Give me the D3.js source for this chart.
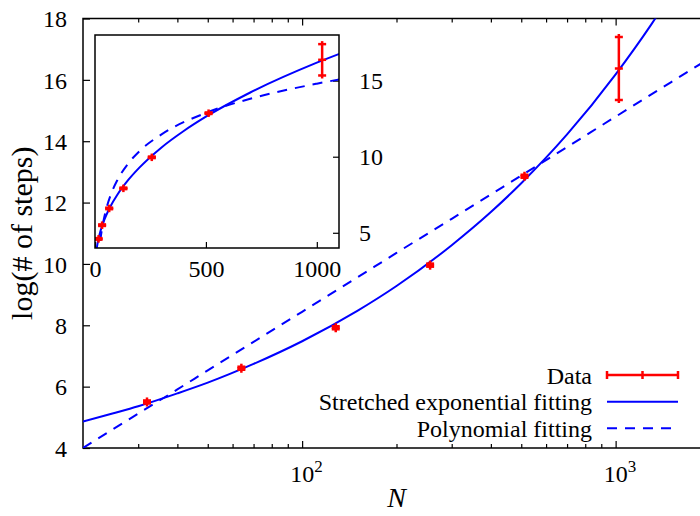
<!DOCTYPE html>
<html>
<head>
<meta charset="utf-8">
<script src="https://cdn.jsdelivr.net/npm/d3@7"></script>
<style>
  body { margin: 0; background: #fff; }
  text { font-family: "Liberation Serif", "Times New Roman", serif; fill: #000; }
</style>
</head>
<body>
<div id="chart"></div>
<script>
/* data */
const sizes = [16, 32, 64, 128, 256, 512, 1024];
const logSteps = [4.6, 5.5, 6.6, 7.92, 9.96, 12.86, 16.37];
const stepErr = [0.05, 0.05, 0.05, 0.05, 0.05, 0.05, 1.03];

// stretched exponential fit
const stretchN = [1, 4, 8, 12, 16, 20, 25, 30, 40, 50, 70, 100, 150, 200, 300, 400, 500, 700, 1000, 1300, 1600, 2000];
const stretchVals = [2.92, 3.53, 3.99, 4.34, 4.62, 4.86, 5.13, 5.36, 5.78, 6.13, 6.74, 7.48, 8.47, 9.28, 10.61, 11.69, 12.63, 14.22, 16.18, 17.81, 19.24, 20.92];

// polynomial fit
const polyN = [10, 16, 20, 25, 30, 40, 50, 70, 100, 150, 200, 300, 500, 700, 1000, 1500, 2000];
const polyVals = [2.09, 3.38, 4.0, 4.62, 5.12, 5.91, 6.53, 7.46, 8.44, 9.56, 10.36, 11.47, 12.88, 13.81, 14.8, 15.92, 16.71];

const mainYTicks = [4, 6, 8, 10, 12, 14, 16, 18];
const mainXTicks = [100, 1000];
const mainXMinor = [30, 40, 50, 60, 70, 80, 90, 200, 300, 400, 500, 600, 700, 800, 900];
const insetXTicks = [0, 500, 1000];
const insetYTicks = [5, 10, 15];
const legendLabels = ["Data", "Stretched exponential fitting", "Polynomial fitting"];

/* Dimensions */
let width = 700;
let height = 516;
let m = {left: 83, right: 710, top: 18.5, bottom: 448};
let ins = {left: 95, right: 339, top: 35, bottom: 248};

let red = "#ff0000";
let blue = "#0000ff";

let svg = d3.select("#chart")
            .append("svg")
              .attr("width", width)
              .attr("height", height);

let defs = svg.append("defs");
defs.append("clipPath").attr("id", "clip-main")
    .append("rect")
      .attr("x", m.left).attr("y", m.top)
      .attr("width", m.right - m.left).attr("height", m.bottom - m.top);
defs.append("clipPath").attr("id", "clip-inset")
    .append("rect")
      .attr("x", ins.left).attr("y", ins.top)
      .attr("width", ins.right - ins.left).attr("height", ins.bottom - ins.top);

/* Main panel */
let xScale = d3.scaleLog().domain([20, 2000]).range([m.left, m.right]);
let yScale = d3.scaleLinear().domain([4, 18]).range([m.bottom, m.top]);

let yAxis = svg.append("g")
   .attr("transform", `translate(${m.left},0)`)
   .call(d3.axisLeft(yScale).tickValues(mainYTicks).tickSize(-7).tickPadding(16));

svg.append("g")
   .attr("transform", `translate(0,${m.bottom})`)
   .call(d3.axisBottom(xScale).tickValues(mainXTicks).tickSize(-7).tickFormat(""));

svg.append("g")
   .attr("transform", `translate(0,${m.bottom})`)
   .call(d3.axisBottom(xScale).tickValues(mainXMinor).tickSize(-4).tickFormat(""));

svg.append("g")
   .attr("transform", `translate(0,${m.top})`)
   .call(d3.axisTop(xScale).tickValues(mainXTicks).tickSize(-7).tickFormat(""));

svg.append("g")
   .attr("transform", `translate(0,${m.top})`)
   .call(d3.axisTop(xScale).tickValues(mainXMinor).tickSize(-4).tickFormat(""));

// 10^n labels
let powLabels = svg.append("g").selectAll("text")
   .data(mainXTicks)
   .enter()
   .append("text")
     .attr("x", d => xScale(d) - 12)
     .attr("y", m.bottom + 34)
     .style("font-size", "24px");
powLabels.append("tspan").text("10");
powLabels.append("tspan")
   .attr("dy", -10)
   .style("font-size", "17px")
   .text(d => Math.round(Math.log10(d)));

svg.selectAll(".tick line").attr("stroke", "#000").attr("stroke-width", 1.2);
svg.selectAll(".domain").remove();
yAxis.selectAll("text").style("font-size", "24px").attr("dy", "0.34em");

svg.append("rect")
   .attr("x", m.left).attr("y", m.top)
   .attr("width", m.right - m.left).attr("height", m.bottom - m.top)
   .attr("fill", "none").attr("stroke", "#000").attr("stroke-width", 1.5);

svg.append("text")
   .attr("transform", `translate(32,${(m.top + m.bottom) / 2}) rotate(-90)`)
   .attr("text-anchor", "middle")
   .style("font-size", "30px")
   .text("log(# of steps)");

svg.append("text")
   .attr("x", (m.left + 700) / 2 + 5)
   .attr("y", 507)
   .attr("text-anchor", "middle")
   .style("font-size", "28px")
   .style("font-style", "italic")
   .text("N");

function drawPanel(g, xs, ys, clipId, nMin) {
  let plot = g.append("g").attr("clip-path", `url(#${clipId})`);

  let pts = (ns, vs) => ns.map((n, i) => [n, vs[i]]);

  let line = d3.line()
               .x(d => xs(d[0]))
               .y(d => ys(d[1]))
               .curve(d3.curveMonotoneX);

  plot.append("path")
      .datum(pts(stretchN, stretchVals).filter(d => d[0] >= nMin))
      .attr("d", line)
      .attr("fill", "none").attr("stroke", blue).attr("stroke-width", 2);

  plot.append("path")
      .datum(pts(polyN, polyVals).filter(d => d[0] >= nMin))
      .attr("d", line)
      .attr("fill", "none").attr("stroke", blue).attr("stroke-width", 2)
      .attr("stroke-dasharray", "10,8");

  let pointData = sizes.map((n, i) => ({n: n, v: logSteps[i], e: stepErr[i]}))
                       .filter(d => d.n >= nMin);

  let pt = plot.append("g").selectAll("g")
     .data(pointData)
     .enter()
     .append("g")
       .attr("stroke", red)
       .attr("stroke-width", 2.5);

  pt.append("line")
      .attr("x1", d => xs(d.n)).attr("x2", d => xs(d.n))
      .attr("y1", d => ys(d.v - d.e) + 3).attr("y2", d => ys(d.v + d.e) - 3);
  pt.append("line")
      .attr("x1", d => xs(d.n) - 4).attr("x2", d => xs(d.n) + 4)
      .attr("y1", d => ys(d.v - d.e)).attr("y2", d => ys(d.v - d.e));
  pt.append("line")
      .attr("x1", d => xs(d.n) - 4).attr("x2", d => xs(d.n) + 4)
      .attr("y1", d => ys(d.v + d.e)).attr("y2", d => ys(d.v + d.e));
  pt.append("line")
      .attr("x1", d => xs(d.n) - 4).attr("x2", d => xs(d.n) + 4)
      .attr("y1", d => ys(d.v)).attr("y2", d => ys(d.v));
}

drawPanel(svg.append("g"), xScale, yScale, "clip-main", 20);

/* Legend */
let legend = svg.append("g");
let legY = [375, 401.7, 428.3];

legend.selectAll("text")
   .data(legendLabels)
   .enter()
   .append("text")
     .attr("x", 592)
     .attr("y", (d, i) => legY[i] + 8.5)
     .attr("text-anchor", "end")
     .style("font-size", "24px")
     .text(d => d);

let dataKey = legend.append("g").attr("stroke", red).attr("stroke-width", 2.5);
dataKey.append("line").attr("x1", 607).attr("x2", 678).attr("y1", legY[0]).attr("y2", legY[0]);
[607, 642.5, 678].forEach(x => {
  dataKey.append("line").attr("x1", x).attr("x2", x).attr("y1", legY[0] - 4).attr("y2", legY[0] + 4);
});
legend.append("line")
   .attr("x1", 607).attr("x2", 678).attr("y1", legY[1]).attr("y2", legY[1])
   .attr("stroke", blue).attr("stroke-width", 2);
legend.append("line")
   .attr("x1", 607).attr("x2", 678).attr("y1", legY[2]).attr("y2", legY[2])
   .attr("stroke", blue).attr("stroke-width", 2).attr("stroke-dasharray", "10,8");

/* Inset */
let ixScale = d3.scaleLinear().domain([0, 1100]).range([ins.left, ins.right]);
let iyScale = d3.scaleLinear().domain([4, 18]).range([ins.bottom, ins.top]);

let inset = svg.append("g");
inset.append("rect")
   .attr("x", ins.left).attr("y", ins.top)
   .attr("width", ins.right - ins.left).attr("height", ins.bottom - ins.top)
   .attr("fill", "#fff");

let ixAxis = inset.append("g")
   .attr("transform", `translate(0,${ins.bottom})`)
   .call(d3.axisBottom(ixScale).tickValues(insetXTicks).tickSize(-6).tickPadding(12)
           .tickFormat(d3.format("d")));

let iyAxis = inset.append("g")
   .attr("transform", `translate(${ins.right},0)`)
   .call(d3.axisRight(iyScale).tickValues(insetYTicks).tickSize(-6).tickPadding(20)
           .tickFormat(d3.format("d")));

inset.selectAll(".domain").remove();
inset.selectAll(".tick line").attr("stroke", "#000").attr("stroke-width", 1.2);
ixAxis.selectAll("text").style("font-size", "24px").attr("dy", "0.71em");
iyAxis.selectAll("text").style("font-size", "24px").attr("dy", "0.34em");

drawPanel(inset.append("g"), ixScale, iyScale, "clip-inset", 0);

inset.append("rect")
   .attr("x", ins.left).attr("y", ins.top)
   .attr("width", ins.right - ins.left).attr("height", ins.bottom - ins.top)
   .attr("fill", "none").attr("stroke", "#000").attr("stroke-width", 1.5);
</script>
</body>
</html>
